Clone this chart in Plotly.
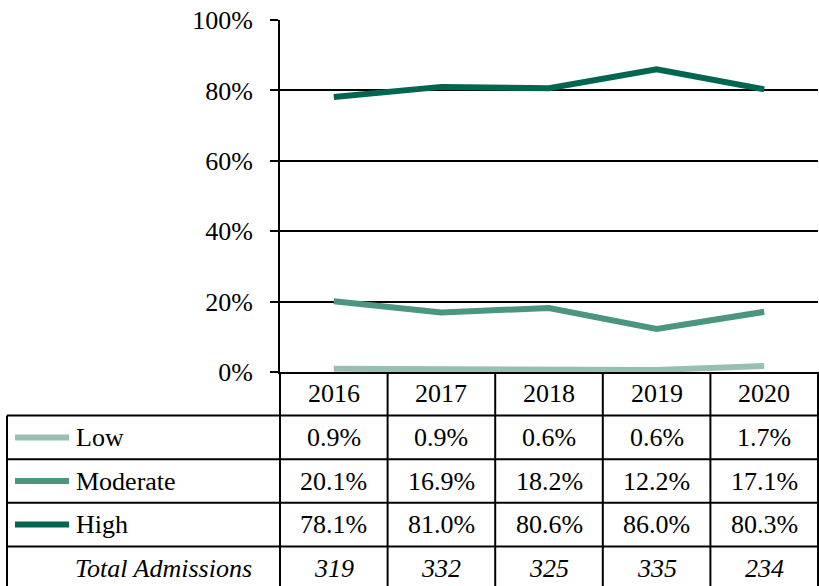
import plotly.graph_objects as go

years = ["2016", "2017", "2018", "2019", "2020"]
low = [0.9, 0.9, 0.6, 0.6, 1.7]
moderate = [20.1, 16.9, 18.2, 12.2, 17.1]
high = [78.1, 81.0, 80.6, 86.0, 80.3]
total_admissions = [319, 332, 325, 335, 234]
y_ticks = [0, 20, 40, 60, 80, 100]
y_tick_labels = ["0%", "20%", "40%", "60%", "80%", "100%"]

series = [
    ("Low", low, "#97BFB2"),
    ("Moderate", moderate, "#4C9580"),
    ("High", high, "#00664F"),
]

W, H = 819, 586
ML, MR, MT, MB = 280, 1, 20, 214
PW, PH = W - ML - MR, H - MT - MB
FONT = "Liberation Serif"
FS = 26
ROW_H = 43.6  # table row height in px

def py(px_below_axis):
    return -px_below_axis / PH

def px(xpix):
    return (xpix - ML) / PW

fig = go.Figure()
for name, vals, col in series:
    fig.add_trace(go.Scatter(
        x=years, y=vals, mode="lines", name=name,
        line=dict(color=col, width=6),
        showlegend=False, cliponaxis=False,
    ))

shapes = []
annotations = []
n = len(years)
left_x = px(7)
bottom = py(ROW_H * 5 + 10)

# vertical column lines
for k in range(n + 1):
    shapes.append(dict(type="line", xref="paper", yref="paper",
                       x0=k / n, x1=k / n, y0=0, y1=bottom,
                       line=dict(color="black", width=2)))
# left border of table (from first data row)
shapes.append(dict(type="line", xref="paper", yref="paper",
                   x0=left_x, x1=left_x, y0=py(ROW_H), y1=bottom,
                   line=dict(color="black", width=2)))
# horizontal lines
for r in range(1, 5):
    shapes.append(dict(type="line", xref="paper", yref="paper",
                       x0=left_x, x1=1, y0=py(ROW_H * r), y1=py(ROW_H * r),
                       line=dict(color="black", width=2)))

# header years (category index positions on the x axis)
for i, yr in enumerate(years):
    annotations.append(dict(x=i, y=py(ROW_H * 0.5), xref="x", yref="paper",
                            text=yr, showarrow=False, yanchor="middle",
                            font=dict(family=FONT, size=FS, color="black")))

# series rows
for r, (name, vals, col) in enumerate(series, start=1):
    yc = py(ROW_H * (r + 0.5))
    shapes.append(dict(type="line", xref="paper", yref="paper",
                       x0=px(15), x1=px(69), y0=yc, y1=yc,
                       line=dict(color=col, width=6)))
    annotations.append(dict(x=px(74), y=yc, xref="paper", yref="paper",
                            text=name, showarrow=False, xanchor="left", yanchor="middle",
                            font=dict(family=FONT, size=FS, color="black")))
    for i, v in enumerate(vals):
        annotations.append(dict(x=i, y=yc, xref="x", yref="paper",
                                text=f"{v:.1f}%", showarrow=False, yanchor="middle",
                                font=dict(family=FONT, size=FS, color="black")))

# total row
yc = py(ROW_H * 4.5)
annotations.append(dict(x=px(254), y=yc, xref="paper", yref="paper",
                        text="<i>Total Admissions</i>", showarrow=False,
                        xanchor="right", yanchor="middle",
                        font=dict(family=FONT, size=FS, color="black")))
for i, v in enumerate(total_admissions):
    annotations.append(dict(x=i, y=yc, xref="x", yref="paper",
                            text=f"<i>{v}</i>", showarrow=False, yanchor="middle",
                            font=dict(family=FONT, size=FS, color="black")))

fig.update_layout(
    width=W, height=H,
    margin=dict(l=ML, r=MR, t=MT, b=MB, pad=0),
    paper_bgcolor="white", plot_bgcolor="white",
    font=dict(family=FONT, size=FS, color="black"),
    shapes=shapes, annotations=annotations,
    xaxis=dict(type="category", range=[-0.5, n - 0.5], showticklabels=False,
               ticks="", showgrid=False, zeroline=False,
               showline=True, linecolor="black", linewidth=2,
               layer="below traces", fixedrange=True),
    yaxis=dict(range=[0, 100], tickvals=y_ticks, ticktext=y_tick_labels,
               ticks="outside", ticklen=8, tickwidth=2, tickcolor="black",
               showgrid=True, gridcolor="black", gridwidth=1.5,
               zeroline=False, showline=True, linecolor="black", linewidth=2,
               ticklabelstandoff=12, layer="below traces", fixedrange=True,
               tickfont=dict(family=FONT, size=FS, color="black")),
)

fig.write_html("out.html", config={"displayModeBar": False},
               post_script="document.body.style.margin='0';document.body.style.overflow='hidden';")
